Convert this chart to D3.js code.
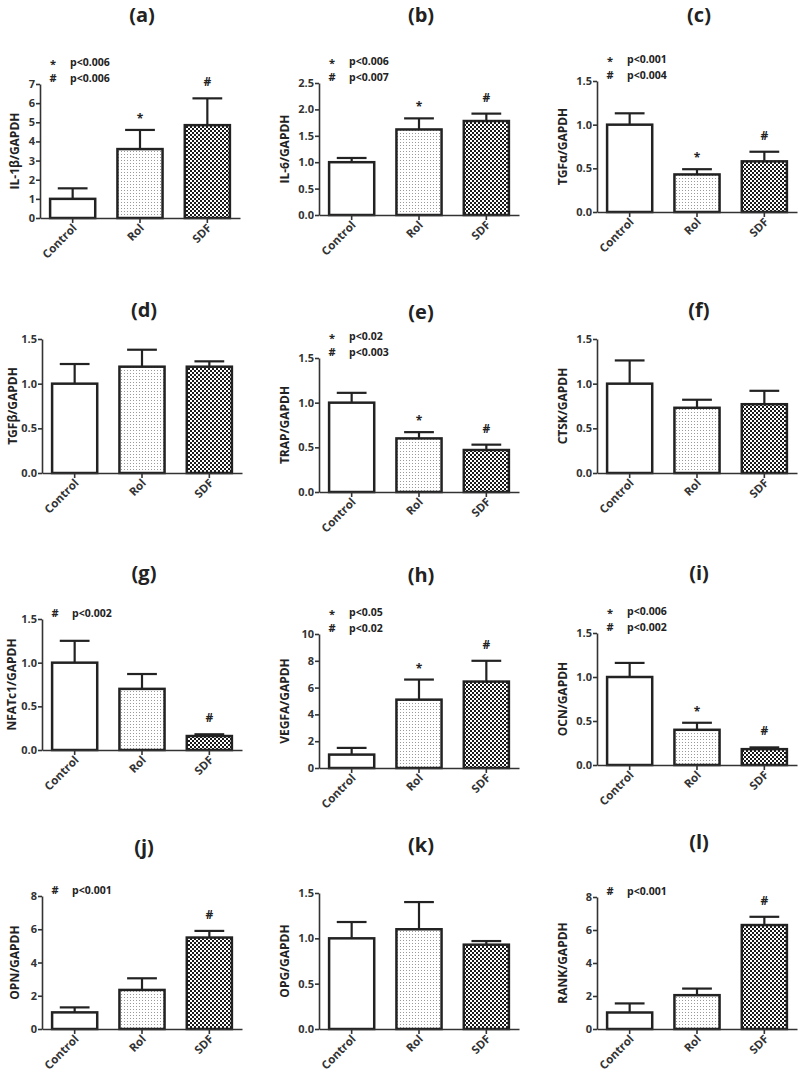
<!DOCTYPE html>
<html>
<head>
<meta charset="utf-8">
<script src="https://cdn.jsdelivr.net/npm/d3@7"></script>
<style>
  body { margin: 0; background: #fff; }
  svg { display: block; font-family: "Open Sans", sans-serif; }
</style>
</head>
<body>
<svg></svg>
<script>
// Data
const categories = ["Control", "Rol", "SDF"];
const panelTags = ["(a)", "(b)", "(c)", "(d)", "(e)", "(f)", "(g)", "(h)", "(i)", "(j)", "(k)", "(l)"];
const yLabels = ["IL-1β/GAPDH", "IL-6/GAPDH", "TGFα/GAPDH", "TGFβ/GAPDH", "TRAP/GAPDH", "CTSK/GAPDH",
                 "NFATc1/GAPDH", "VEGFA/GAPDH", "OCN/GAPDH", "OPN/GAPDH", "OPG/GAPDH", "RANK/GAPDH"];
const means = [
  [1.0, 3.6, 4.85], [1.0, 1.62, 1.78], [1.0, 0.43, 0.58],
  [1.0, 1.19, 1.19], [1.0, 0.6, 0.47], [1.0, 0.73, 0.77],
  [1.0, 0.7, 0.16], [1.0, 5.1, 6.45], [1.0, 0.4, 0.18],
  [1.0, 2.35, 5.5], [1.0, 1.1, 0.93], [1.0, 2.05, 6.3]
];
// top of the error bar (mean + SEM)
const upper = [
  [1.55, 4.6, 6.25], [1.08, 1.83, 1.92], [1.13, 0.49, 0.69],
  [1.22, 1.38, 1.25], [1.11, 0.67, 0.53], [1.26, 0.82, 0.92],
  [1.25, 0.87, 0.18], [1.5, 6.6, 8.0], [1.16, 0.48, 0.2],
  [1.3, 3.05, 5.9], [1.18, 1.4, 0.97], [1.55, 2.45, 6.8]
];
const yMax = [7, 2.5, 1.5, 1.5, 1.5, 1.5, 1.5, 10, 1.5, 8, 1.5, 8];
const yStep = [1, 0.5, 0.5, 0.5, 0.5, 0.5, 0.5, 2, 0.5, 2, 0.5, 2];
const yDecimals = [0, 1, 1, 1, 1, 1, 1, 0, 1, 0, 1, 0];
const barMarks = [
  ["", "*", "#"], ["", "*", "#"], ["", "*", "#"],
  ["", "", ""], ["", "*", "#"], ["", "", ""],
  ["", "", "#"], ["", "*", "#"], ["", "*", "#"],
  ["", "", "#"], ["", "", ""], ["", "", "#"]
];
const pSymbols = [["*", "#"], ["*", "#"], ["*", "#"], [], ["*", "#"], [], ["#"], ["*", "#"], ["*", "#"], ["#"], [], ["#"]];
const pTexts = [
  ["p<0.006", "p<0.006"], ["p<0.006", "p<0.007"], ["p<0.001", "p<0.004"], [],
  ["p<0.02", "p<0.003"], [], ["p<0.002"], ["p<0.05", "p<0.02"],
  ["p<0.006", "p<0.002"], ["p<0.001"], [], ["p<0.001"]
];

// Layout of each panel: y-axis x, top / zero of y axis, title y, y-label x
const layout = [
  { ax: 40, top: 84, zero: 218, ty: 15, lx: 15 },
  { ax: 319, top: 83, zero: 215, ty: 15, lx: 285 },
  { ax: 597, top: 81, zero: 212, ty: 15, lx: 563 },
  { ax: 42, top: 339, zero: 473, ty: 310, lx: 13 },
  { ax: 319, top: 358, zero: 492, ty: 312, lx: 285 },
  { ax: 597, top: 339, zero: 473, ty: 310, lx: 563 },
  { ax: 42, top: 619, zero: 750, ty: 573, lx: 12 },
  { ax: 319, top: 634, zero: 768, ty: 575, lx: 285 },
  { ax: 597, top: 633, zero: 765, ty: 573, lx: 563 },
  { ax: 42, top: 896, zero: 1029, ty: 847, lx: 15 },
  { ax: 319, top: 893, zero: 1029, ty: 845, lx: 285 },
  { ax: 597, top: 897, zero: 1029, ty: 842, lx: 563 }
];

const width = 799;
const height = 1071;
const ink = "#222";

const svg = d3.select("svg")
  .attr("width", width)
  .attr("height", height);

svg.append("rect").attr("width", width).attr("height", height).attr("fill", "#fff");

// Fill patterns
const defs = svg.append("defs");
const dots = defs.append("pattern")
  .attr("id", "dots").attr("width", 3).attr("height", 3)
  .attr("patternUnits", "userSpaceOnUse");
dots.append("rect").attr("width", 3).attr("height", 3).attr("fill", "#fff");
dots.append("rect").attr("x", 1).attr("y", 1).attr("width", 1).attr("height", 1).attr("fill", "#9a9a9a");

const checker = defs.append("pattern")
  .attr("id", "checker").attr("width", 4).attr("height", 4)
  .attr("patternUnits", "userSpaceOnUse");
checker.append("rect").attr("width", 4).attr("height", 4).attr("fill", "#fff");
checker.append("rect").attr("width", 2).attr("height", 2).attr("fill", "#1a1a1a");
checker.append("rect").attr("x", 2).attr("y", 2).attr("width", 2).attr("height", 2).attr("fill", "#1a1a1a");

const fills = ["#fff", "url(#dots)", "url(#checker)"];

panelTags.forEach((tag, i) => {
  const L = layout[i];
  const g = svg.append("g");

  const x = d3.scaleBand()
    .domain(categories)
    .range([L.ax, L.ax + 200])
    .paddingInner(0.33)
    .paddingOuter(0.15);

  const y = d3.scaleLinear()
    .domain([0, yMax[i]])
    .range([L.zero, L.top]);

  const ticks = d3.range(0, yMax[i] + yStep[i] / 2, yStep[i]);

  const bars = categories.map((c, j) => ({
    cat: c, mean: means[i][j], up: upper[i][j], mark: barMarks[i][j], fill: fills[j]
  }));

  // Title
  g.append("text")
    .attr("x", x("Rol") + x.bandwidth() / 2 + 2)
    .attr("y", L.ty)
    .attr("dy", "0.35em")
    .attr("text-anchor", "middle")
    .attr("font-size", 20)
    .attr("font-weight", "bold")
    .attr("fill", ink)
    .text(tag);

  // Error bars (upper only)
  const capW = x.bandwidth() * 0.66;
  g.selectAll(".err")
    .data(bars)
    .enter()
    .append("line")
    .attr("x1", d => x(d.cat) + x.bandwidth() / 2)
    .attr("x2", d => x(d.cat) + x.bandwidth() / 2)
    .attr("y1", d => y(d.mean))
    .attr("y2", d => y(d.up))
    .attr("stroke", ink)
    .attr("stroke-width", 2.2);

  g.selectAll(".cap")
    .data(bars)
    .enter()
    .append("line")
    .attr("x1", d => x(d.cat) + x.bandwidth() / 2 - capW / 2)
    .attr("x2", d => x(d.cat) + x.bandwidth() / 2 + capW / 2)
    .attr("y1", d => y(d.up))
    .attr("y2", d => y(d.up))
    .attr("stroke", ink)
    .attr("stroke-width", 2.2);

  // Bars
  g.selectAll(".bar")
    .data(bars)
    .enter()
    .append("rect")
    .attr("x", d => x(d.cat))
    .attr("y", d => y(d.mean))
    .attr("width", x.bandwidth())
    .attr("height", d => L.zero - y(d.mean))
    .attr("fill", d => d.fill)
    .attr("stroke", ink)
    .attr("stroke-width", 2.5);

  // Significance marks above bars
  g.selectAll(".mark")
    .data(bars.filter(d => d.mark))
    .enter()
    .append("text")
    .attr("x", d => x(d.cat) + x.bandwidth() / 2)
    .attr("y", d => y(d.up) - (d.mark === "*" ? 7 : 12))
    .attr("text-anchor", "middle")
    .attr("font-size", 12)
    .attr("font-weight", "bold")
    .attr("fill", ink)
    .text(d => d.mark);

  // Y axis
  const yAxis = g.append("g")
    .attr("transform", `translate(${L.ax},0)`)
    .call(d3.axisLeft(y)
      .tickValues(ticks)
      .tickFormat(d3.format(`.${yDecimals[i]}f`))
      .tickSize(4)
      .tickSizeOuter(0));

  // X axis
  const xAxis = g.append("g")
    .attr("transform", `translate(0,${L.zero})`)
    .call(d3.axisBottom(x).tickSize(5).tickSizeOuter(0));

  [yAxis, xAxis].forEach(a => {
    a.select(".domain").attr("stroke", "#333").attr("stroke-width", 1.6);
    a.selectAll(".tick line").attr("stroke", "#333").attr("stroke-width", 1.6);
    a.selectAll("text")
      .attr("font-family", "Open Sans, sans-serif")
      .attr("font-size", 11)
      .attr("font-weight", "bold")
      .attr("fill", "#333");
  });
  yAxis.selectAll("text").attr("x", -5);

  xAxis.selectAll("text")
    .attr("font-size", 11.5)
    .attr("text-anchor", "end")
    .attr("x", 0)
    .attr("y", 0)
    .attr("dy", "0.35em")
    .attr("transform", "translate(2,8) rotate(-45)");

  // Y label
  g.append("text")
    .attr("transform", `translate(${L.lx},${(L.top + L.zero) / 2}) rotate(-90)`)
    .attr("dy", "0.35em")
    .attr("text-anchor", "middle")
    .attr("font-size", 12)
    .attr("font-weight", "bold")
    .attr("fill", ink)
    .text(yLabels[i]);

  // p-value notes
  const n = pSymbols[i].length;
  pSymbols[i].forEach((s, k) => {
    const ly = L.top - 6 - (n - 1 - k) * 16;
    g.append("text")
      .attr("x", L.ax + 13)
      .attr("y", ly + (s === "*" ? 6 : 4))
      .attr("text-anchor", "middle")
      .attr("font-size", 11)
      .attr("font-weight", "bold")
      .attr("fill", ink)
      .text(s);
    g.append("text")
      .attr("x", L.ax + 30)
      .attr("y", ly)
      .attr("dy", "0.35em")
      .attr("font-size", 10.5)
      .attr("font-weight", "bold")
      .attr("fill", ink)
      .text(pTexts[i][k]);
  });
});
</script>
</body>
</html>
